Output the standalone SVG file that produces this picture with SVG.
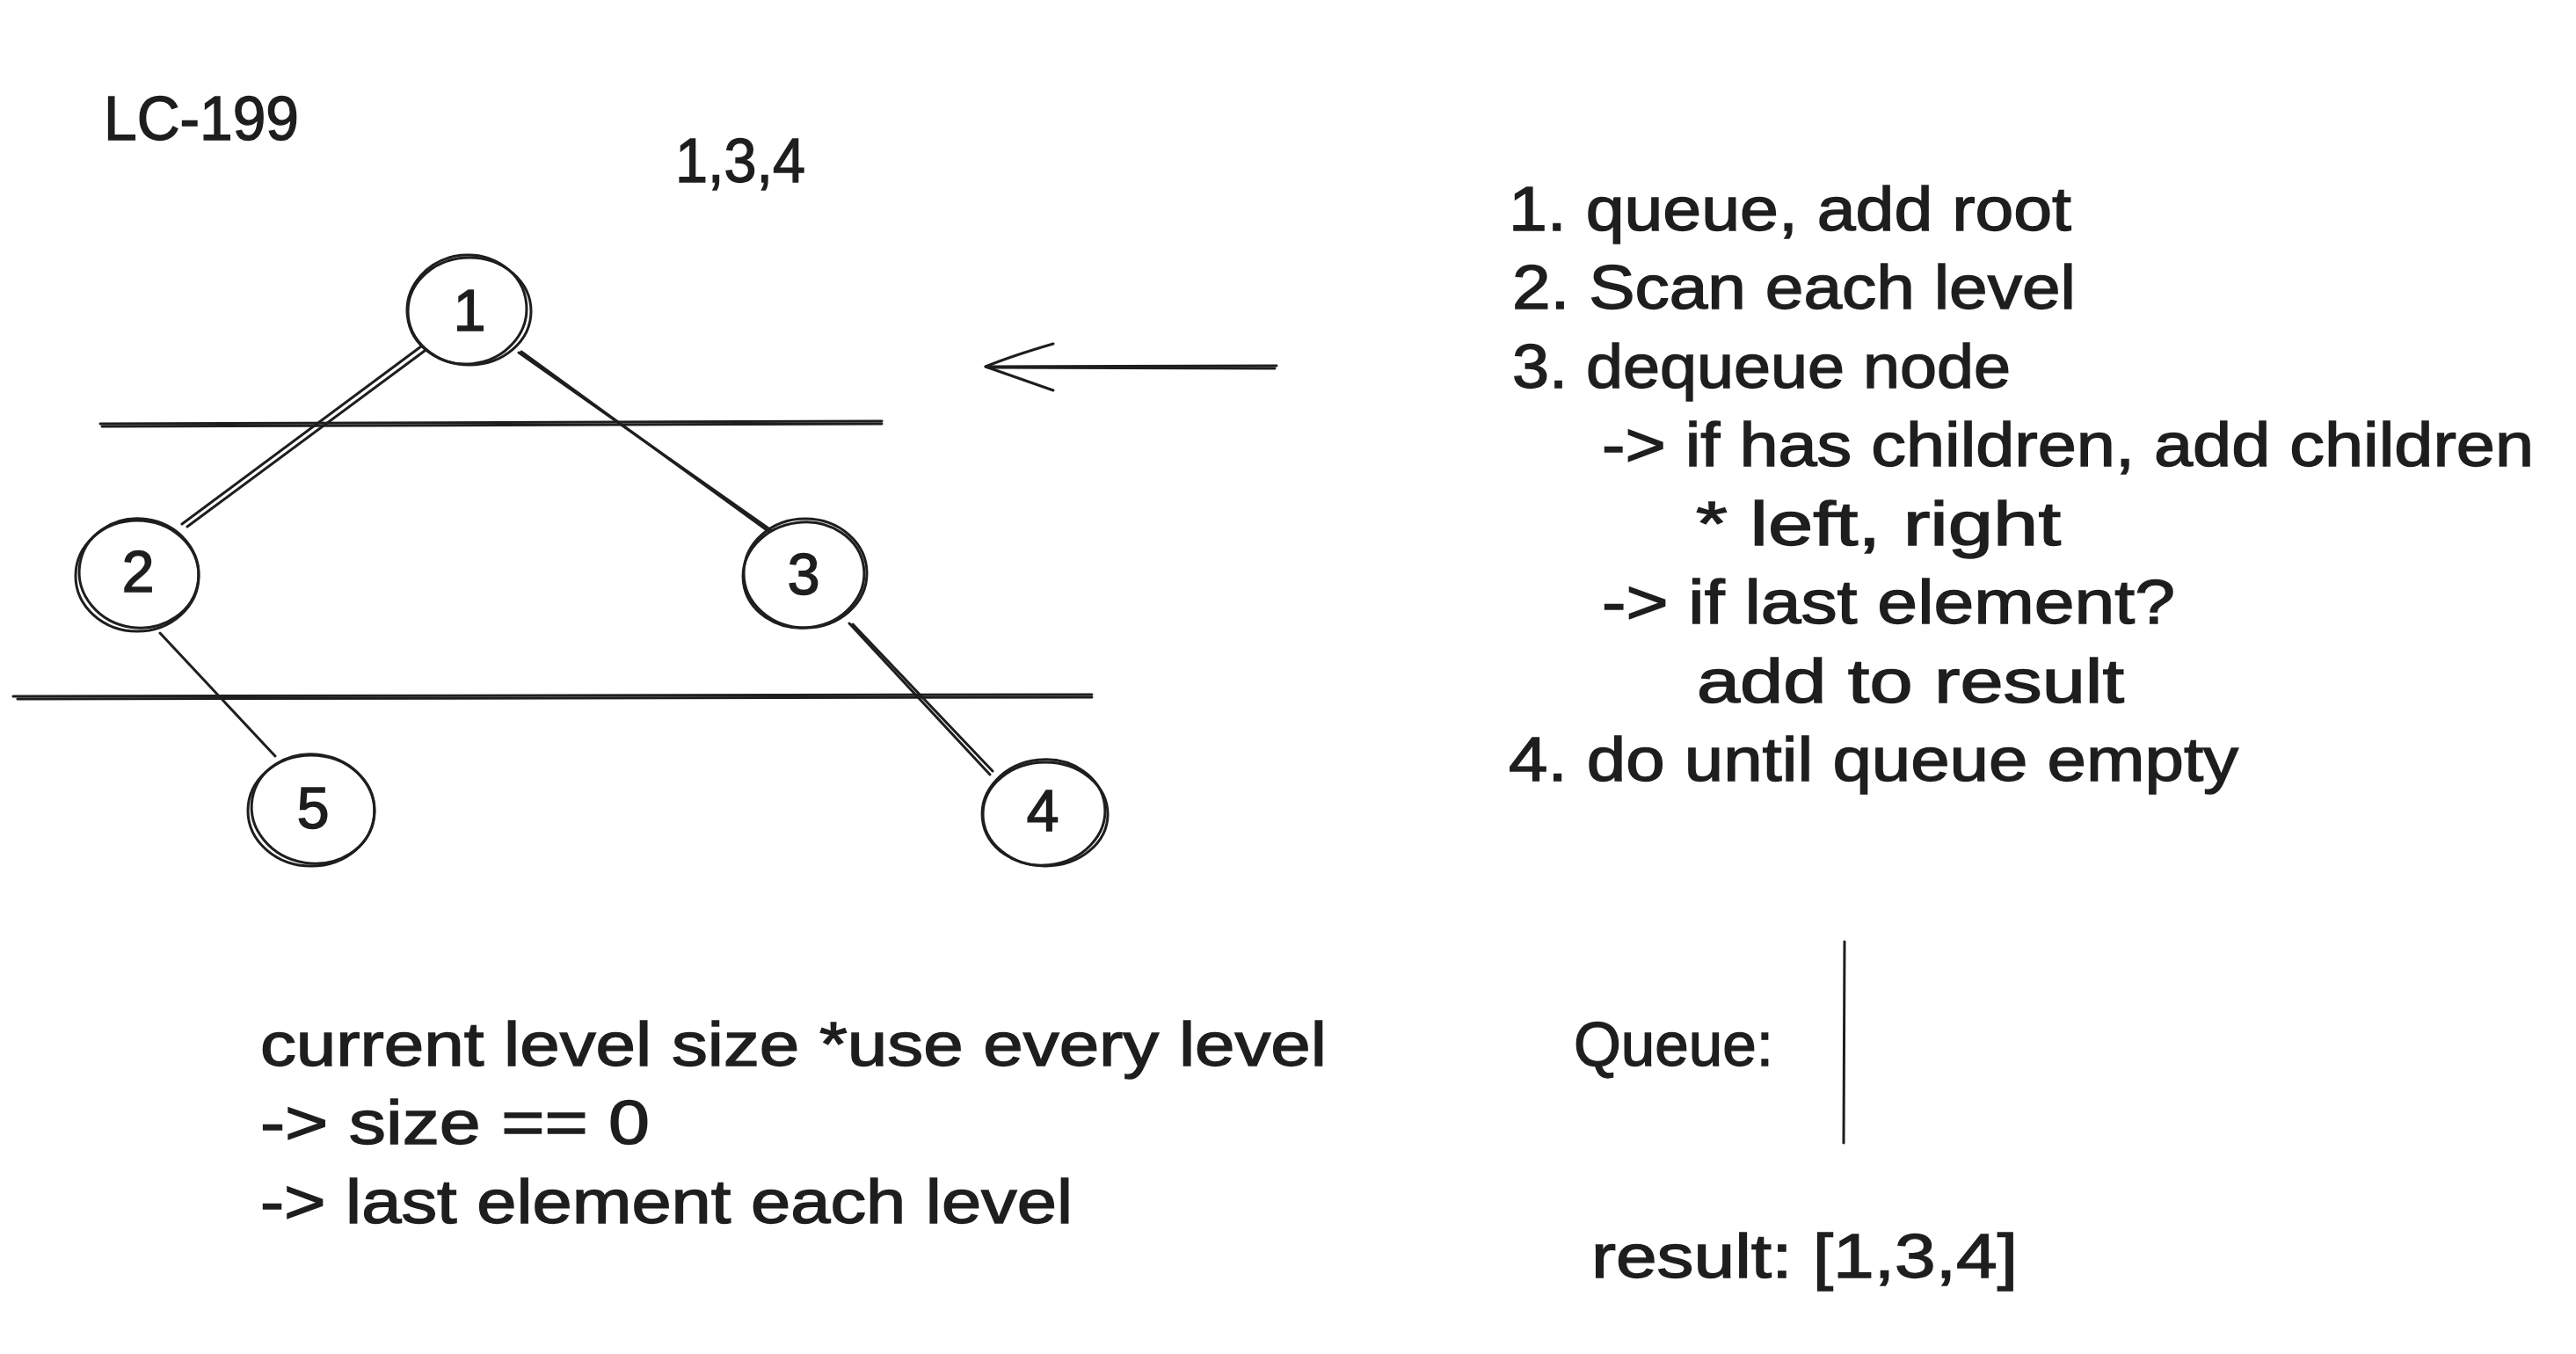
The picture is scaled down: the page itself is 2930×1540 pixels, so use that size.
<svg xmlns="http://www.w3.org/2000/svg" width="2930" height="1540" viewBox="0 0 2930 1540">
<style>
.bg{fill:#ffffff}
.s{fill:none;stroke:#1e1e1e;stroke-width:3;stroke-linecap:round;stroke-linejoin:round}
.t{font-family:"Liberation Sans",Arial,sans-serif;font-size:70px;fill:#1e1e1e;stroke:#1e1e1e;stroke-width:1.4}
.n{font-family:"Liberation Sans",Arial,sans-serif;font-size:66px;fill:#1e1e1e;stroke:#1e1e1e;stroke-width:1.6;text-anchor:middle}
</style>
<rect class="bg" x="0" y="0" width="2930" height="1540"/>

<g id="title">
<text class="t" x="118" y="159" textLength="222" lengthAdjust="spacingAndGlyphs">LC-199</text>
<text class="t" x="768" y="207" textLength="148" lengthAdjust="spacingAndGlyphs">1,3,4</text>
</g>

<g id="connectors">
<path class="s" d="M479 394 L207 596"/>
<path class="s" d="M483 399 L213 599"/>
<path class="s" d="M590 401 L877 603"/>
<path class="s" d="M593 400 L875 605"/>
<path class="s" d="M182 720 L313 860"/>
<path class="s" d="M966 709 L1126 881"/>
<path class="s" d="M970 710 L1129 877"/>
</g>

<g id="level-lines">
<path class="s" d="M114 482 L1003 479"/>
<path class="s" d="M116 485 L1003 482"/>
<path class="s" d="M15 792 L1242 790"/>
<path class="s" d="M20 795 L1242 793"/>
</g>

<g id="node-1">
<ellipse class="s" cx="534" cy="354" rx="70" ry="61"/>
<ellipse class="s" cx="531" cy="352" rx="68" ry="62" transform="rotate(-6 531 352)"/>
<text class="n" x="534" y="376">1</text>
</g>
<g id="node-2">
<ellipse class="s" cx="156" cy="655" rx="70" ry="63"/>
<ellipse class="s" cx="158" cy="652" rx="68" ry="62" transform="rotate(8 158 652)"/>
<text class="n" x="157" y="673">2</text>
</g>
<g id="node-3">
<ellipse class="s" cx="916" cy="652" rx="70" ry="62"/>
<ellipse class="s" cx="914" cy="654" rx="69" ry="60" transform="rotate(-7 914 654)"/>
<text class="n" x="914" y="676">3</text>
</g>
<g id="node-5">
<ellipse class="s" cx="354" cy="922" rx="72" ry="63"/>
<ellipse class="s" cx="356" cy="920" rx="70" ry="62" transform="rotate(9 356 920)"/>
<text class="n" x="356" y="942">5</text>
</g>
<g id="node-4">
<ellipse class="s" cx="1189" cy="926" rx="71" ry="59"/>
<ellipse class="s" cx="1187" cy="924" rx="70" ry="60" transform="rotate(-6 1187 924)"/>
<text class="n" x="1186" y="945">4</text>
</g>

<g id="arrow">
<path class="s" d="M1452 416 L1121 417"/>
<path class="s" d="M1450 419 L1124 418"/>
<path class="s" d="M1198 391 Q1150 405 1121 417 Q1152 428 1198 444"/>
</g>

<g id="steps">
<text class="t" x="1716" y="262" textLength="640" lengthAdjust="spacingAndGlyphs">1. queue, add root</text>
<text class="t" x="1720" y="351" textLength="641" lengthAdjust="spacingAndGlyphs">2. Scan each level</text>
<text class="t" x="1720" y="441" textLength="567" lengthAdjust="spacingAndGlyphs">3. dequeue node</text>
<text class="t" x="1822" y="530" textLength="1060" lengthAdjust="spacingAndGlyphs">-&gt; if has children, add children</text>
<text class="t" x="1929" y="620" textLength="415" lengthAdjust="spacingAndGlyphs">* left, right</text>
<text class="t" x="1822" y="709" textLength="652" lengthAdjust="spacingAndGlyphs">-&gt; if last element?</text>
<text class="t" x="1930" y="799" textLength="486" lengthAdjust="spacingAndGlyphs">add to result</text>
<text class="t" x="1716" y="888" textLength="830" lengthAdjust="spacingAndGlyphs">4. do until queue empty</text>
</g>

<g id="notes">
<text class="t" x="296" y="1212" textLength="1213" lengthAdjust="spacingAndGlyphs">current level size *use every level</text>
<text class="t" x="296" y="1301" textLength="443" lengthAdjust="spacingAndGlyphs">-&gt; size == 0</text>
<text class="t" x="296" y="1391" textLength="924" lengthAdjust="spacingAndGlyphs">-&gt; last element each level</text>
</g>

<g id="queue">
<text class="t" x="1790" y="1212" textLength="227" lengthAdjust="spacingAndGlyphs">Queue:</text>
<path class="s" d="M2098 1071 L2097 1300"/>
</g>

<g id="result">
<text class="t" x="1810" y="1453" textLength="485" lengthAdjust="spacingAndGlyphs">result: [1,3,4]</text>
</g>
</svg>
